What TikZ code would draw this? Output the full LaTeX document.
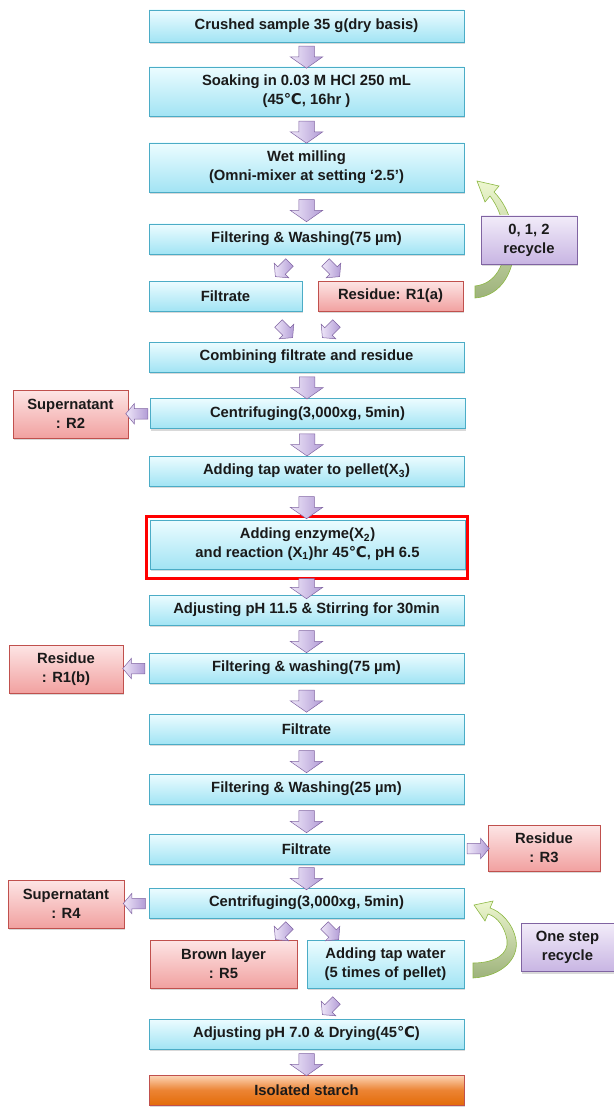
\documentclass[tikz,border=0pt]{standalone}
\usepackage{fontspec}
\setmainfont{Liberation Sans}
\newfontfamily\celsiusfont{DejaVu Sans}
\usetikzlibrary{shapes.arrows,shadows,calc}
\definecolor{textdark}{HTML}{1A1A1A}
\definecolor{cyantop}{HTML}{ECFCFF}
\definecolor{cyanbot}{HTML}{A2E4F4}
\definecolor{cyanedge}{HTML}{4BACC6}
\definecolor{redtop}{HTML}{FDE5E5}
\definecolor{redbot}{HTML}{F1A1A0}
\definecolor{rededge}{HTML}{C0504D}
\definecolor{purptop}{HTML}{F2ECF9}
\definecolor{purpbot}{HTML}{C8B5E3}
\definecolor{purpedge}{HTML}{8064A2}
\definecolor{arrtop}{HTML}{EEE6F8}
\definecolor{arrbot}{HTML}{B29CD6}
\definecolor{recytop}{HTML}{EDF7CF}
\definecolor{recybot}{HTML}{9DB27B}
\definecolor{recyedge}{HTML}{8DB844}
\definecolor{orgtop}{HTML}{FCD6B8}
\definecolor{orgmid}{HTML}{EC8434}
\definecolor{orgbot}{HTML}{E36C09}
\newcommand{\degc}{{\celsiusfont ℃}}

\begin{document}
\begin{tikzpicture}[x=1pt,y=-1pt,
    every node/.style={font=\bfseries\fontsize{14.8}{19}\selectfont, text=textdark, align=center, inner sep=0pt},
    stepbox/.style={draw=cyanedge, line width=0.8pt, top color=cyantop, bottom color=cyanbot, minimum width=315, minimum height=30, drop shadow={shadow xshift=1pt, shadow yshift=-2pt, opacity=0.3}},
    restbox/.style={draw=rededge, line width=0.8pt, top color=redtop, bottom color=redbot, minimum height=48, drop shadow={shadow xshift=1pt, shadow yshift=-2pt, opacity=0.3}},
    cyclebox/.style={draw=purpedge, line width=0.8pt, top color=purptop, bottom color=purpbot, minimum height=48, drop shadow={shadow xshift=1pt, shadow yshift=-2pt, opacity=0.3}},
    downarrow/.style={single arrow, draw=purpedge, line width=0.5pt, left color=arrtop, right color=arrbot, minimum width=0, minimum height=22, inner xsep=0pt, inner ysep=7.5pt, single arrow head extend=8.5, single arrow tip angle=110, rotate=-90},
    sidearrow/.style={single arrow, draw=purpedge, line width=0.5pt, left color=arrtop, right color=arrbot, minimum width=0, minimum height=20, inner xsep=0pt, inner ysep=5pt, single arrow head extend=5, single arrow tip angle=100},
    recyarrow/.style={draw=recyedge, line width=0.6pt, top color=recytop, bottom color=recybot}]
\useasboundingbox (0,0) rectangle (613,1107);

\node[stepbox, minimum height=32] (b1) at (306.5,26) {Crushed sample 35 g(dry basis)};
\node[stepbox, minimum height=49] (b2) at (306.5,91.5) {Soaking in 0.03 M HCl 250 mL\\(45\degc, 16hr )};
\node[stepbox, minimum height=49] (b3) at (306.5,167.5) {Wet milling\\(Omni-mixer at setting ‘2.5’)};
\node[stepbox] (b4) at (306.5,239) {Filtering \& Washing(75 µm)};
\node[stepbox, minimum width=153] (b5a) at (225.5,296) {Filtrate};
\node[restbox, minimum width=145, minimum height=30] (b5b) at (390.5,296) {Residue: R1(a)};
\node[stepbox] (b6) at (306.5,357) {Combining filtrate and residue};
\node[stepbox] (b7) at (307.5,413.5) {Centrifuging(3,000xg, 5min)};
\node[restbox, minimum width=115] (r2) at (70.5,414) {Supernatant\\: R2};
\node[stepbox] (b8) at (306.5,471) {Adding tap water to pellet(X\textsubscript{3})};
\node[stepbox, minimum height=49] (b9) at (307.5,544.5) {Adding enzyme(X\textsubscript{2})\\and reaction (X\textsubscript{1})hr 45\degc, pH 6.5};
\draw[red, line width=3pt] (146,516) rectangle (467,578);
\node[stepbox] (b10) at (306.5,610) {Adjusting pH 11.5 \& Stirring for 30min};
\node[stepbox] (b11) at (306.5,668) {Filtering \& washing(75 µm)};
\node[restbox, minimum width=114] (r1b) at (66,669) {Residue\\: R1(b)};
\node[stepbox] (b12) at (306.5,729) {Filtrate};
\node[stepbox] (b13) at (306.5,789) {Filtering \& Washing(25 µm)};
\node[stepbox] (b14) at (306.5,849) {Filtrate};
\node[restbox, minimum width=112, minimum height=46] (r3) at (544,848) {Residue\\: R3};
\node[stepbox] (b15) at (306.5,903) {Centrifuging(3,000xg, 5min)};
\node[restbox, minimum width=116] (r4) at (66,904) {Supernatant\\: R4};
\node[restbox, minimum width=147] (b16a) at (223.5,964) {Brown layer\\: R5};
\node[stepbox, minimum width=157, minimum height=48] (b16b) at (385.5,964) {Adding tap water\\(5 times of pellet)};
\node[stepbox] (b17) at (306.5,1034) {Adjusting pH 7.0 \& Drying(45\degc)};
\node[draw=rededge, line width=0.8pt, top color=orgtop, bottom color=orgbot, middle color=orgmid, minimum width=315, minimum height=30, drop shadow={shadow xshift=1pt, shadow yshift=-2pt, opacity=0.3}] (b18) at (306.5,1090) {Isolated starch};

\draw[recyarrow] (475,298) .. controls (502,296) and (516,270) .. (514,240) .. controls (512,215) and (502,200) .. (494,192) -- (499,186) -- (477,181) -- (485,202) -- (490,196) .. controls (497,205) and (504,220) .. (505,240) .. controls (506,265) and (495,284) .. (475,286) -- cycle;
\node[cyclebox, minimum width=96] (p1) at (529,240) {0, 1, 2\\recycle};
\draw[recyarrow] (473,978) .. controls (503,976) and (519,958) .. (516,940) .. controls (513,923) and (500,911) .. (490,908) -- (493,901) -- (474,905) -- (485,921) -- (488,914) .. controls (498,917) and (505,928) .. (507,940) .. controls (509,954) and (495,963) .. (473,963) -- cycle;
\node[cyclebox, minimum width=93] (p2) at (567.5,947.5) {One step\\recycle};

\node[downarrow] (a1) at ($(b1.south)!.5!(b2.north)$) {};
\node[downarrow] (a2) at ($(b2.south)!.5!(b3.north)$) {};
\node[downarrow] (a3) at ($(b3.south)!.5!(b4.north)$) {};
\node[sidearrow, rotate=-135] (a4) at (284,268) {};
\node[sidearrow, rotate=-45] (a5) at (331,268) {};
\node[sidearrow, rotate=-45] (a6) at (284,329) {};
\node[sidearrow, rotate=-135] (a7) at (331,329) {};
\node[downarrow] (a8) at ($(b6.south)!.5!(b7.north)$) {};
\node[sidearrow, minimum height=22, rotate=180] (a9) at ($(b7.west)!.5!(r2.east)$) {};
\node[downarrow] (a10) at ($(b7.south)!.5!(b8.north)$) {};
\node[downarrow] (a11) at (306.5,505) {};
\node[downarrow, minimum height=20] (a12) at (306.5,586) {};
\node[downarrow] (a13) at ($(b10.south)!.5!(b11.north)$) {};
\node[sidearrow, minimum height=22, rotate=180] (a14) at ($(b11.west)!.5!(r1b.east)$) {};
\node[downarrow] (a15) at ($(b11.south)!.5!(b12.north)$) {};
\node[downarrow] (a16) at ($(b12.south)!.5!(b13.north)$) {};
\node[downarrow] (a17) at ($(b13.south)!.5!(b14.north)$) {};
\node[sidearrow, minimum height=22] (a18) at ($(b14.east)!.5!(r3.west)$) {};
\node[downarrow] (a19) at ($(b14.south)!.5!(b15.north)$) {};
\node[sidearrow, minimum height=22, rotate=180] (a20) at ($(b15.west)!.5!(r4.east)$) {};
\node[sidearrow, rotate=-135] (a21) at (284,931) {};
\node[sidearrow, rotate=-45] (a22) at (330,931) {};
\node[sidearrow, rotate=-135] (a23) at (331,1006) {};
\node[downarrow] (a24) at ($(b17.south)!.5!(b18.north)$) {};
\end{tikzpicture}
\end{document}
